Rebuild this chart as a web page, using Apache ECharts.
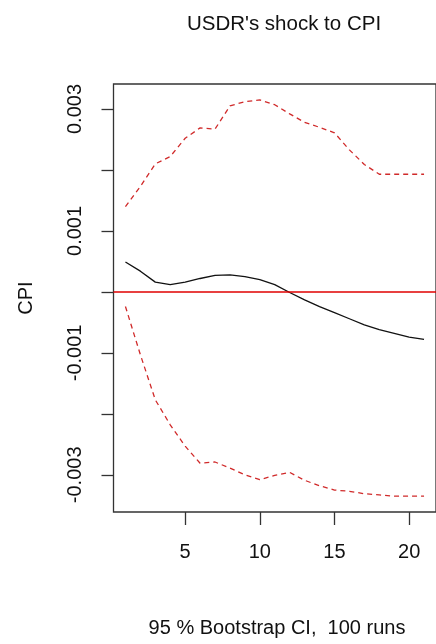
<!DOCTYPE html>
<html>
<head>
<meta charset="utf-8">
<script src="https://cdn.jsdelivr.net/npm/echarts@6/dist/echarts.min.js"></script>
<style>
  html, body { margin: 0; padding: 0; background: #fff; }
  #chart { width: 436px; height: 644px; }
</style>
</head>
<body>
<div id="chart"></div>
<script>
// Impulse response of CPI to a USDR shock, with bootstrap bands
const steps = [1, 2, 3, 4, 5, 6, 7, 8, 9, 10, 11, 12, 13, 14, 15, 16, 17, 18, 19, 20, 21];
const irf = [0.00049, 0.00034, 0.00016, 0.00012, 0.00016, 0.00022, 0.00027, 0.00028, 0.00025, 0.00020,
             0.00012, -0.00001, -0.00013, -0.00024, -0.00034, -0.00044, -0.00054, -0.00062, -0.00068, -0.00074, -0.00078];
const upper = [0.00140, 0.00173, 0.00210, 0.00222, 0.00252, 0.00269, 0.00267, 0.00305, 0.00312, 0.00315,
               0.00307, 0.00292, 0.00278, 0.00270, 0.00261, 0.00233, 0.00209, 0.00193, 0.00193, 0.00193, 0.00193];
const lower = [-0.00024, -0.00103, -0.00177, -0.00218, -0.00253, -0.00281, -0.00279, -0.00289, -0.00300, -0.00308,
               -0.00301, -0.00296, -0.00309, -0.00318, -0.00325, -0.00327, -0.00331, -0.00333, -0.00335, -0.00335, -0.00335];
const xTicks = [5, 10, 15, 20];
const yTicks = [-0.003, -0.002, -0.001, 0, 0.001, 0.002, 0.003];
const yLabels = [-0.003, -0.001, 0.001, 0.003];

const FONT = 'Liberation Sans, Arial, sans-serif';
const pairs = vals => steps.map((s, i) => [s, vals[i]]);

const chart = echarts.init(document.getElementById('chart'), null, { renderer: 'canvas' });
chart.setOption({
  animation: false,
  backgroundColor: '#ffffff',
  textStyle: { fontFamily: FONT },
  title: {
    text: "USDR's shock to CPI",
    left: 279, top: 9, textAlign: 'center',
    textStyle: { fontFamily: FONT, fontSize: 20.5, fontWeight: 'normal', color: '#111' }
  },
  graphic: [{
    type: 'text', x: 277, y: 628,
    style: { text: '95 % Bootstrap CI,  100 runs', font: '20px ' + FONT, fill: '#111', align: 'center', verticalAlign: 'middle' }
  }],
  grid: { left: 113.5, top: 84, width: 328.5, height: 428, show: true, borderColor: '#333', borderWidth: 1.3, backgroundColor: 'transparent' },
  xAxis: {
    type: 'value', min: 0.2, max: 21.8,
    axisLine: { show: false, onZero: false },
    splitLine: { show: false },
    axisTick: { show: true, length: 13, customValues: xTicks, lineStyle: { color: '#333', width: 1.3 } },
    axisLabel: { customValues: xTicks, margin: 30, fontSize: 20, fontFamily: FONT, color: '#111' }
  },
  yAxis: {
    type: 'value', min: -0.00361, max: 0.00341,
    name: 'CPI', nameLocation: 'middle', nameGap: 77, nameRotate: 90,
    nameTextStyle: { fontSize: 20, fontFamily: FONT, color: '#111' },
    axisLine: { show: false, onZero: false },
    splitLine: { show: false },
    axisTick: { show: true, length: 12, customValues: yTicks, lineStyle: { color: '#333', width: 1.3 } },
    axisLabel: {
      customValues: yLabels, rotate: 90, margin: 28, fontSize: 20, fontFamily: FONT, color: '#111',
      formatter: v => v.toFixed(3)
    }
  },
  series: [
    {
      name: 'upper', type: 'line', data: pairs(upper), showSymbol: false, silent: true,
      lineStyle: { color: '#d02a2a', width: 1.3, type: [5, 4] }
    },
    {
      name: 'lower', type: 'line', data: pairs(lower), showSymbol: false, silent: true,
      lineStyle: { color: '#d02a2a', width: 1.3, type: [5, 4] }
    },
    {
      name: 'irf', type: 'line', data: pairs(irf), showSymbol: false, silent: true,
      lineStyle: { color: '#111', width: 1.3 },
      markLine: {
        silent: true, symbol: 'none', label: { show: false },
        lineStyle: { color: '#e00000', width: 1.6, type: 'solid' },
        data: [{ yAxis: 0 }]
      }
    }
  ]
});
</script>
</body>
</html>
